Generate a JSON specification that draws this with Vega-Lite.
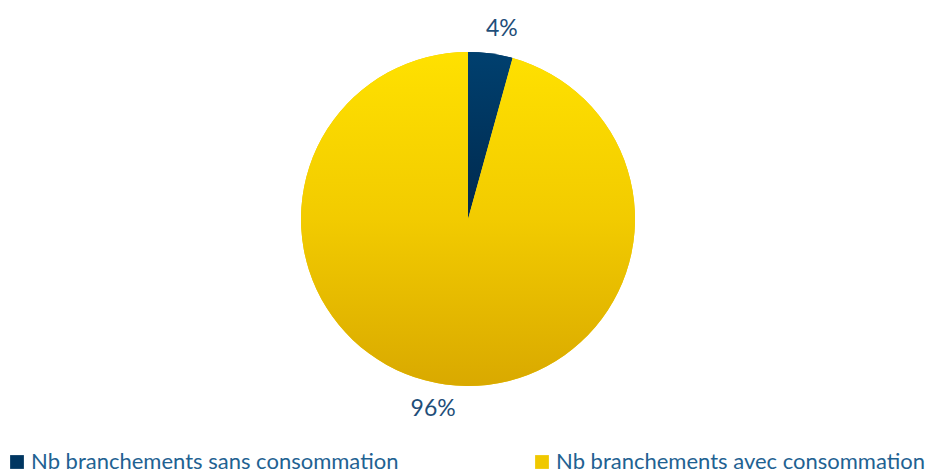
{
  "$schema": "https://vega.github.io/schema/vega-lite/v6.json",
  "autosize": "none",
  "width": 932,
  "height": 438,
  "padding": {"left": 2, "top": 0, "right": 0, "bottom": 37},
  "background": "white",
  "config": {"view": {"stroke": null}},
  "data": {
    "values": [
      {"categorie": "Nb branchements sans consommation", "part": 4.3, "label": "4%", "ordre": 1},
      {"categorie": "Nb branchements avec consommation", "part": 95.7, "label": "96%", "ordre": 2}
    ]
  },
  "encoding": {
    "theta": {"field": "part", "type": "quantitative", "stack": true},
    "order": {"field": "ordre", "type": "quantitative"}
  },
  "layer": [
    {
      "mark": {"type": "arc", "outerRadius": 167},
      "encoding": {
        "fill": {
          "field": "categorie",
          "type": "nominal",
          "sort": ["Nb branchements sans consommation", "Nb branchements avec consommation"],
          "scale": {
            "domain": ["Nb branchements sans consommation", "Nb branchements avec consommation"],
            "range": ["#003661", "#F0C800"]
          },
          "legend": {
            "title": null,
            "orient": "none",
            "direction": "horizontal",
            "columns": 2,
            "legendX": 4,
            "legendY": 451,
            "padding": 0,
            "columnPadding": 132,
            "symbolType": "square",
            "symbolSize": 190,
            "symbolStrokeWidth": 0,
            "labelFont": "Lato",
            "labelFontSize": 22,
            "labelColor": "#1F6292",
            "labelOffset": 3,
            "labelLimit": 0
          }
        }
      }
    },
    {
      "mark": {"type": "arc", "outerRadius": 167},
      "encoding": {
        "fill": {
          "condition": {
            "test": "datum.ordre === 1",
            "value": {
              "gradient": "linear", "x1": 0, "y1": 0, "x2": 0, "y2": 1,
              "stops": [{"offset": 0, "color": "#00406F"}, {"offset": 1, "color": "#00294D"}]
            }
          },
          "value": {
            "gradient": "linear", "x1": 0, "y1": 0, "x2": 0, "y2": 1,
            "stops": [{"offset": 0, "color": "#FFE100"}, {"offset": 0.5, "color": "#F2CB00"}, {"offset": 1, "color": "#D9A900"}]
          }
        }
      }
    },
    {
      "mark": {"type": "text", "radius": 192, "dx": 8, "font": "Lato", "fontSize": 23, "color": "#1F4E79", "baseline": "middle", "align": "center"},
      "encoding": {
        "text": {"condition": {"test": "datum.ordre === 1", "field": "label"}, "value": ""}
      }
    },
    {
      "mark": {"type": "text", "radius": 192, "dx": -9, "font": "Lato", "fontSize": 23, "color": "#1F4E79", "baseline": "middle", "align": "center"},
      "encoding": {
        "text": {"condition": {"test": "datum.ordre === 2", "field": "label"}, "value": ""}
      }
    }
  ]
}
